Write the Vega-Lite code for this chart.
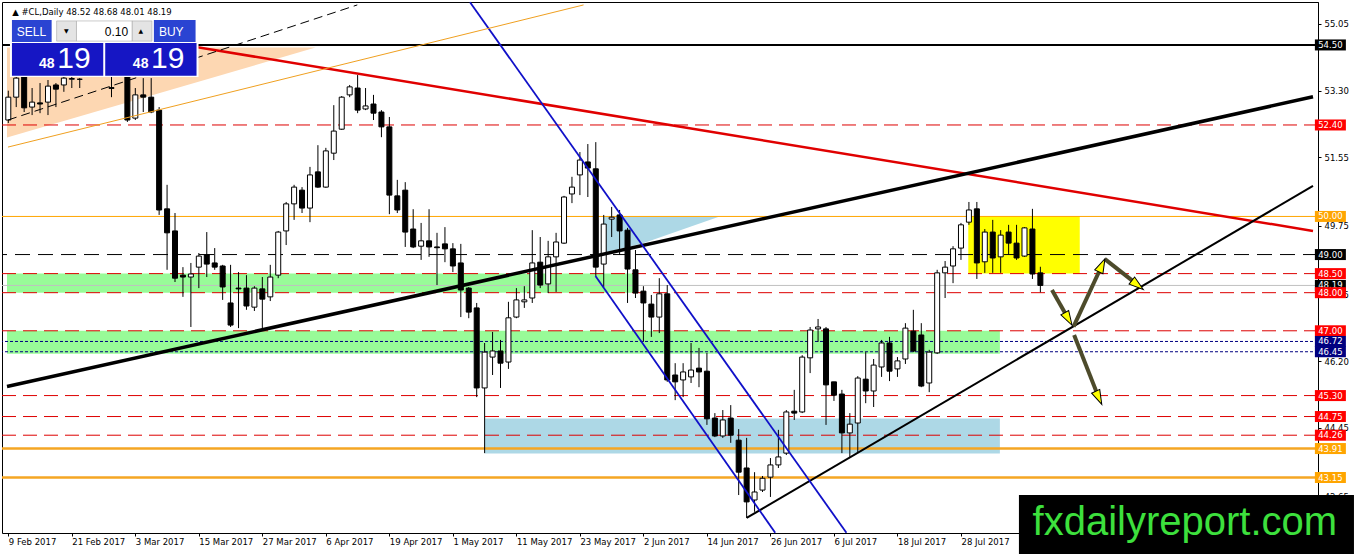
{
  "$schema": "https://vega.github.io/schema/vega-lite/v6.json",
  "description": "#CL daily candlesticks with support/resistance levels, trend lines and trade panel.",
  "autosize": {"type": "none"},
  "width": 1316,
  "height": 531,
  "padding": {"left": 2, "top": 2, "right": 40, "bottom": 21},
  "background": "white",
  "datasets": {
    "candles": [
      {"bar": 0, "open": 52.53, "high": 53.30, "low": 52.45, "close": 53.13},
      {"bar": 1, "open": 53.13, "high": 53.75, "low": 52.87, "close": 53.63},
      {"bar": 2, "open": 53.66, "high": 53.80, "low": 52.74, "close": 52.85},
      {"bar": 3, "open": 52.87, "high": 53.37, "low": 52.66, "close": 53.00},
      {"bar": 4, "open": 52.98, "high": 53.50, "low": 52.71, "close": 52.95},
      {"bar": 5, "open": 53.00, "high": 53.58, "low": 52.66, "close": 53.42},
      {"bar": 6, "open": 53.45, "high": 53.50, "low": 52.87, "close": 53.34},
      {"bar": 7, "open": 53.45, "high": 53.71, "low": 53.27, "close": 53.63},
      {"bar": 8, "open": 53.60, "high": 53.71, "low": 53.37, "close": 53.62},
      {"bar": 9, "open": 53.60, "high": 53.63, "low": 53.37, "close": 53.60},
      {"bar": 10, "open": 53.75, "high": 54.05, "low": 53.72, "close": 53.95},
      {"bar": 11, "open": 53.95, "high": 54.15, "low": 53.75, "close": 53.85},
      {"bar": 12, "open": 53.85, "high": 54.00, "low": 53.72, "close": 53.80},
      {"bar": 13, "open": 53.38, "high": 53.66, "low": 53.13, "close": 53.36},
      {"bar": 14, "open": 53.80, "high": 54.10, "low": 53.70, "close": 53.90},
      {"bar": 15, "open": 53.95, "high": 54.20, "low": 52.48, "close": 52.53},
      {"bar": 16, "open": 52.58, "high": 53.37, "low": 52.53, "close": 53.19},
      {"bar": 17, "open": 53.19, "high": 53.63, "low": 52.74, "close": 53.13},
      {"bar": 18, "open": 53.13, "high": 53.63, "low": 52.71, "close": 52.74},
      {"bar": 19, "open": 52.79, "high": 52.87, "low": 50.04, "close": 50.17},
      {"bar": 20, "open": 50.20, "high": 50.83, "low": 48.60, "close": 49.57},
      {"bar": 21, "open": 49.62, "high": 50.09, "low": 48.28, "close": 48.38},
      {"bar": 22, "open": 48.46, "high": 48.67, "low": 47.89, "close": 48.41},
      {"bar": 23, "open": 48.41, "high": 48.78, "low": 47.10, "close": 48.49},
      {"bar": 24, "open": 48.67, "high": 49.04, "low": 48.12, "close": 48.96},
      {"bar": 25, "open": 48.99, "high": 49.59, "low": 48.41, "close": 48.75},
      {"bar": 26, "open": 48.78, "high": 49.17, "low": 48.60, "close": 48.67},
      {"bar": 27, "open": 48.70, "high": 48.73, "low": 47.81, "close": 48.15},
      {"bar": 28, "open": 47.73, "high": 48.73, "low": 47.10, "close": 47.15},
      {"bar": 29, "open": 48.12, "high": 48.54, "low": 47.07, "close": 48.10},
      {"bar": 30, "open": 48.12, "high": 48.46, "low": 47.55, "close": 47.65},
      {"bar": 31, "open": 47.62, "high": 48.17, "low": 47.52, "close": 48.12},
      {"bar": 32, "open": 48.10, "high": 48.41, "low": 47.07, "close": 47.83},
      {"bar": 33, "open": 47.89, "high": 48.73, "low": 47.78, "close": 48.41},
      {"bar": 34, "open": 48.46, "high": 49.62, "low": 48.38, "close": 49.59},
      {"bar": 35, "open": 49.62, "high": 50.38, "low": 49.25, "close": 50.33},
      {"bar": 36, "open": 50.33, "high": 50.83, "low": 49.91, "close": 50.77},
      {"bar": 37, "open": 50.69, "high": 50.77, "low": 50.09, "close": 50.22},
      {"bar": 38, "open": 50.22, "high": 51.30, "low": 49.85, "close": 51.09},
      {"bar": 39, "open": 51.17, "high": 51.87, "low": 50.75, "close": 50.77},
      {"bar": 40, "open": 50.77, "high": 51.80, "low": 50.75, "close": 51.72},
      {"bar": 41, "open": 51.66, "high": 52.92, "low": 51.48, "close": 52.24},
      {"bar": 42, "open": 52.29, "high": 53.16, "low": 52.27, "close": 53.13},
      {"bar": 43, "open": 53.19, "high": 53.45, "low": 53.13, "close": 53.40},
      {"bar": 44, "open": 53.37, "high": 53.71, "low": 52.71, "close": 52.79},
      {"bar": 45, "open": 52.82, "high": 53.37, "low": 52.79, "close": 52.90},
      {"bar": 46, "open": 52.95, "high": 53.19, "low": 52.53, "close": 52.71},
      {"bar": 47, "open": 52.74, "high": 52.79, "low": 52.08, "close": 52.35},
      {"bar": 48, "open": 52.35, "high": 52.61, "low": 50.06, "close": 50.56},
      {"bar": 49, "open": 50.54, "high": 50.96, "low": 50.09, "close": 50.17},
      {"bar": 50, "open": 50.69, "high": 50.90, "low": 49.20, "close": 49.59},
      {"bar": 51, "open": 49.67, "high": 50.19, "low": 49.17, "close": 49.20},
      {"bar": 52, "open": 49.22, "high": 49.83, "low": 48.86, "close": 49.36},
      {"bar": 53, "open": 49.36, "high": 50.19, "low": 48.94, "close": 49.20},
      {"bar": 54, "open": 49.20, "high": 49.57, "low": 48.20, "close": 49.18},
      {"bar": 55, "open": 49.28, "high": 49.72, "low": 48.80, "close": 49.15},
      {"bar": 56, "open": 49.15, "high": 49.30, "low": 48.54, "close": 48.70},
      {"bar": 57, "open": 48.78, "high": 49.28, "low": 47.36, "close": 48.07},
      {"bar": 58, "open": 48.12, "high": 48.15, "low": 47.33, "close": 47.49},
      {"bar": 59, "open": 47.60, "high": 47.73, "low": 45.26, "close": 45.50},
      {"bar": 60, "open": 45.50, "high": 46.68, "low": 43.79, "close": 46.44},
      {"bar": 61, "open": 46.31, "high": 46.97, "low": 45.84, "close": 46.47},
      {"bar": 62, "open": 46.47, "high": 46.76, "low": 45.50, "close": 46.15},
      {"bar": 63, "open": 46.18, "high": 47.76, "low": 46.00, "close": 47.34},
      {"bar": 64, "open": 47.36, "high": 48.12, "low": 47.33, "close": 47.81},
      {"bar": 65, "open": 47.76, "high": 48.17, "low": 47.60, "close": 47.81},
      {"bar": 66, "open": 47.86, "high": 49.64, "low": 47.73, "close": 48.78},
      {"bar": 67, "open": 48.80, "high": 49.46, "low": 48.12, "close": 48.20},
      {"bar": 68, "open": 48.23, "high": 49.36, "low": 47.99, "close": 48.94},
      {"bar": 69, "open": 48.94, "high": 49.57, "low": 48.02, "close": 49.33},
      {"bar": 70, "open": 49.30, "high": 50.54, "low": 49.28, "close": 50.51},
      {"bar": 71, "open": 50.59, "high": 51.04, "low": 50.35, "close": 50.77},
      {"bar": 72, "open": 51.09, "high": 51.69, "low": 50.56, "close": 51.48},
      {"bar": 73, "open": 51.43, "high": 51.90, "low": 50.51, "close": 51.27},
      {"bar": 74, "open": 51.25, "high": 51.95, "low": 48.44, "close": 48.67},
      {"bar": 75, "open": 48.75, "high": 50.04, "low": 48.15, "close": 49.80},
      {"bar": 76, "open": 49.93, "high": 50.25, "low": 49.46, "close": 49.98},
      {"bar": 77, "open": 50.04, "high": 50.17, "low": 48.99, "close": 49.62},
      {"bar": 78, "open": 49.64, "high": 49.70, "low": 47.73, "close": 48.62},
      {"bar": 79, "open": 48.60, "high": 49.12, "low": 47.86, "close": 47.99},
      {"bar": 80, "open": 48.04, "high": 48.17, "low": 46.71, "close": 47.73},
      {"bar": 81, "open": 47.70, "high": 47.94, "low": 46.84, "close": 47.36},
      {"bar": 82, "open": 47.36, "high": 48.38, "low": 46.94, "close": 47.97},
      {"bar": 83, "open": 47.97, "high": 48.20, "low": 45.66, "close": 45.71},
      {"bar": 84, "open": 45.84, "high": 46.15, "low": 45.18, "close": 45.66},
      {"bar": 85, "open": 45.71, "high": 46.15, "low": 45.26, "close": 45.92},
      {"bar": 86, "open": 45.79, "high": 46.68, "low": 45.63, "close": 45.97},
      {"bar": 87, "open": 46.02, "high": 46.55, "low": 45.52, "close": 45.92},
      {"bar": 88, "open": 45.94, "high": 46.42, "low": 44.53, "close": 44.69},
      {"bar": 89, "open": 44.71, "high": 44.84, "low": 44.21, "close": 44.24},
      {"bar": 90, "open": 44.24, "high": 44.92, "low": 44.19, "close": 44.66},
      {"bar": 91, "open": 44.71, "high": 45.05, "low": 44.06, "close": 44.26},
      {"bar": 92, "open": 44.13, "high": 44.42, "low": 42.69, "close": 43.29},
      {"bar": 93, "open": 43.40, "high": 44.19, "low": 42.09, "close": 42.51},
      {"bar": 94, "open": 42.56, "high": 43.29, "low": 42.25, "close": 42.77},
      {"bar": 95, "open": 42.82, "high": 43.19, "low": 42.77, "close": 43.13},
      {"bar": 96, "open": 43.16, "high": 43.66, "low": 42.64, "close": 43.48},
      {"bar": 97, "open": 43.48, "high": 44.40, "low": 43.40, "close": 43.69},
      {"bar": 98, "open": 43.79, "high": 44.92, "low": 43.74, "close": 44.87},
      {"bar": 99, "open": 44.89, "high": 45.45, "low": 44.66, "close": 44.84},
      {"bar": 100, "open": 44.87, "high": 46.36, "low": 44.84, "close": 46.31},
      {"bar": 101, "open": 46.29, "high": 47.10, "low": 45.89, "close": 47.02},
      {"bar": 102, "open": 47.05, "high": 47.31, "low": 46.71, "close": 47.10},
      {"bar": 103, "open": 47.05, "high": 47.10, "low": 44.53, "close": 45.58},
      {"bar": 104, "open": 45.66, "high": 45.66, "low": 45.16, "close": 45.31},
      {"bar": 105, "open": 45.34, "high": 45.45, "low": 43.79, "close": 44.32},
      {"bar": 106, "open": 44.32, "high": 44.84, "low": 43.69, "close": 44.55},
      {"bar": 107, "open": 44.58, "high": 45.81, "low": 43.82, "close": 45.76},
      {"bar": 108, "open": 45.73, "high": 46.44, "low": 45.10, "close": 45.42},
      {"bar": 109, "open": 45.42, "high": 46.26, "low": 45.00, "close": 46.10},
      {"bar": 110, "open": 46.05, "high": 46.76, "low": 45.79, "close": 46.68},
      {"bar": 111, "open": 46.68, "high": 46.84, "low": 45.68, "close": 45.94},
      {"bar": 112, "open": 46.00, "high": 46.31, "low": 45.79, "close": 46.21},
      {"bar": 113, "open": 46.26, "high": 47.20, "low": 46.13, "close": 47.07},
      {"bar": 114, "open": 46.99, "high": 47.55, "low": 46.44, "close": 46.47},
      {"bar": 115, "open": 46.89, "high": 47.20, "low": 45.52, "close": 45.55},
      {"bar": 116, "open": 45.63, "high": 46.50, "low": 45.39, "close": 46.44},
      {"bar": 117, "open": 46.42, "high": 48.60, "low": 46.39, "close": 48.52},
      {"bar": 118, "open": 48.52, "high": 48.83, "low": 47.86, "close": 48.67},
      {"bar": 119, "open": 48.70, "high": 49.22, "low": 48.25, "close": 49.15},
      {"bar": 120, "open": 49.17, "high": 49.83, "low": 48.86, "close": 49.78},
      {"bar": 121, "open": 49.85, "high": 50.38, "low": 49.78, "close": 50.17},
      {"bar": 122, "open": 50.20, "high": 50.38, "low": 48.36, "close": 48.78},
      {"bar": 123, "open": 48.81, "high": 49.67, "low": 48.52, "close": 49.59},
      {"bar": 124, "open": 49.59, "high": 49.91, "low": 48.52, "close": 48.91},
      {"bar": 125, "open": 48.94, "high": 49.64, "low": 48.52, "close": 49.51},
      {"bar": 126, "open": 49.59, "high": 49.78, "low": 48.99, "close": 49.30},
      {"bar": 127, "open": 49.30, "high": 49.78, "low": 48.86, "close": 48.91},
      {"bar": 128, "open": 48.96, "high": 49.72, "low": 48.94, "close": 49.70},
      {"bar": 129, "open": 49.67, "high": 50.20, "low": 48.36, "close": 48.49},
      {"bar": 130, "open": 48.52, "high": 48.68, "low": 48.01, "close": 48.19}
    ],
    "levelSolid": [{"price": 54.50}],
    "levelRed": [{"price": 52.40}, {"price": 48.50}, {"price": 48.00}, {"price": 47.00}, {"price": 45.30}, {"price": 44.75}, {"price": 44.26}],
    "levelOrange": [{"price": 50.00}],
    "levelDash": [{"price": 49.00}],
    "levelBid": [{"price": 48.19}],
    "levelNavy": [{"price": 46.72}, {"price": 46.45}],
    "levelGold": [{"price": 43.91}, {"price": 43.15}],
    "zones": [
      {"zone": "support 48.00-48.50", "bar1": -0.1625, "bar2": 78.97, "low": 48.00, "high": 48.50},
      {"zone": "support 46.40-47.00", "bar1": -0.1625, "bar2": 124.9, "low": 46.40, "high": 47.00},
      {"zone": "demand", "bar1": 60.0, "bar2": 124.9, "low": 43.78, "high": 44.70},
      {"zone": "range", "bar1": 120.92, "bar2": 134.96, "low": 48.50, "high": 50.00}
    ],
    "arrows": [
      {"bar1": 131.46, "price1": 48.07, "bar2": 133.59, "price2": 47.29},
      {"bar1": 134.18, "price1": 47.11, "bar2": 137.81, "price2": 48.74},
      {"bar1": 138.13, "price1": 48.88, "bar2": 142.34, "price2": 48.19},
      {"bar1": 134.25, "price1": 46.89, "bar2": 137.40, "price2": 45.22}
    ]
  },
  "layer": [
    {
      "data": {"values": [{"bar": -0.16, "top": 54.43, "bottom": 52.07}, {"bar": 38.7, "top": 54.43, "bottom": 54.43}]},
      "mark": {"type": "area", "color": "#fdd7b2"},
      "encoding": {
        "x": {
          "field": "bar", "type": "quantitative",
          "scale": {"domain": [-0.1625, 164.34], "nice": false, "zero": false},
          "axis": {
            "title": null, "grid": false, "domain": false,
            "values": [0, 8, 16, 24, 32, 40, 48, 56, 64, 72, 80, 88, 96, 104, 112, 120],
            "labelExpr": "datum.value == 0 ? '9 Feb 2017' : datum.value == 8 ? '21 Feb 2017' : datum.value == 16 ? '3 Mar 2017' : datum.value == 24 ? '15 Mar 2017' : datum.value == 32 ? '27 Mar 2017' : datum.value == 40 ? '6 Apr 2017' : datum.value == 48 ? '19 Apr 2017' : datum.value == 56 ? '1 May 2017' : datum.value == 64 ? '11 May 2017' : datum.value == 72 ? '23 May 2017' : datum.value == 80 ? '2 Jun 2017' : datum.value == 88 ? '14 Jun 2017' : datum.value == 96 ? '26 Jun 2017' : datum.value == 104 ? '6 Jul 2017' : datum.value == 112 ? '18 Jul 2017' : '28 Jul 2017'",
            "labelAlign": "left", "labelFont": "DejaVu Sans", "labelFontSize": 8.5, "labelColor": "black",
            "tickColor": "black", "tickSize": 3, "labelPadding": 1,
            "labelOverlap": false, "labelFlush": false, "labelBound": false
          }
        },
        "y": {
          "field": "top", "type": "quantitative",
          "scale": {"domain": [41.694, 55.627], "nice": false, "zero": false},
          "axis": {
            "orient": "right", "title": null, "grid": false,
            "values": [55.05, 54.20, 53.30, 52.40, 51.55, 50.65, 49.75, 48.85, 47.95, 47.10, 46.20, 45.30, 44.45, 43.55, 42.65],
            "format": ".2f", "labelFont": "DejaVu Sans", "labelFontSize": 8.5, "labelColor": "black",
            "tickColor": "black", "tickSize": 3, "domainColor": "black", "labelPadding": 3,
            "labelOverlap": false, "labelFlush": false, "labelBound": false
          }
        },
        "y2": {"field": "bottom"}
      }
    },
    {
      "data": {"values": [{"bar": 74.96, "top": 50.0, "bottom": 49.05}, {"bar": 79.96, "top": 50.0, "bottom": 49.30}, {"bar": 89.6, "top": 50.0, "bottom": 50.0}]},
      "mark": {"type": "area", "color": "#add8e6"},
      "encoding": {
        "x": {"field": "bar", "type": "quantitative"},
        "y": {"field": "top", "type": "quantitative"},
        "y2": {"field": "bottom"}
      }
    },
    {
      "data": {"name": "zones"},
      "mark": {"type": "rect"},
      "encoding": {
        "x": {"field": "bar1", "type": "quantitative"},
        "x2": {"field": "bar2"},
        "y": {"field": "low", "type": "quantitative"},
        "y2": {"field": "high"},
        "color": {
          "field": "zone", "type": "nominal", "legend": null,
          "scale": {"domain": ["support 48.00-48.50", "support 46.40-47.00", "demand", "range"], "range": ["#98fb98", "#98fb98", "#add8e6", "#ffff00"]}
        }
      }
    },
    {"data": {"name": "levelSolid"}, "mark": {"type": "rule", "color": "black", "strokeWidth": 2}, "encoding": {"y": {"field": "price", "type": "quantitative"}}},
    {"data": {"name": "levelRed"}, "mark": {"type": "rule", "color": "#dd0000", "strokeWidth": 1, "strokeDash": [14, 7]}, "encoding": {"y": {"field": "price", "type": "quantitative"}}},
    {"data": {"name": "levelOrange"}, "mark": {"type": "rule", "color": "#ffa500", "strokeWidth": 1}, "encoding": {"y": {"field": "price", "type": "quantitative"}}},
    {"data": {"name": "levelDash"}, "mark": {"type": "rule", "color": "black", "strokeWidth": 1, "strokeDash": [15, 8]}, "encoding": {"y": {"field": "price", "type": "quantitative"}}},
    {"data": {"name": "levelBid"}, "mark": {"type": "rule", "color": "#c0c0c0", "strokeWidth": 1}, "encoding": {"y": {"field": "price", "type": "quantitative"}}},
    {"data": {"name": "levelNavy"}, "mark": {"type": "rule", "color": "#000080", "strokeWidth": 1, "strokeDash": [3, 2]}, "encoding": {"y": {"field": "price", "type": "quantitative"}}},
    {"data": {"name": "levelGold"}, "mark": {"type": "rule", "color": "#f5a623", "strokeWidth": 2.5}, "encoding": {"y": {"field": "price", "type": "quantitative"}}},
    {
      "data": {"name": "candles"},
      "mark": {"type": "rule", "color": "black", "strokeWidth": 1},
      "encoding": {
        "x": {"field": "bar", "type": "quantitative"},
        "y": {"field": "low", "type": "quantitative"},
        "y2": {"field": "high"}
      }
    },
    {
      "data": {"name": "candles"},
      "mark": {"type": "bar", "size": 5, "stroke": "black", "strokeWidth": 1},
      "encoding": {
        "x": {"field": "bar", "type": "quantitative"},
        "y": {"field": "open", "type": "quantitative"},
        "y2": {"field": "close"},
        "fill": {"condition": {"test": "datum.close < datum.open", "value": "black"}, "value": "white"}
      }
    },
    {
      "data": {"values": [{"bar1": 18, "price1": 54.64, "bar2": 164.34, "price2": 49.62}]},
      "mark": {"type": "rule", "color": "#e00000", "strokeWidth": 2.5},
      "encoding": {
        "x": {"field": "bar1", "type": "quantitative"}, "x2": {"field": "bar2"},
        "y": {"field": "price1", "type": "quantitative"}, "y2": {"field": "price2"}
      }
    },
    {
      "data": {"values": [{"bar1": -0.1625, "price1": 45.54, "bar2": 164.34, "price2": 53.14}]},
      "mark": {"type": "rule", "color": "black", "strokeWidth": 3.5},
      "encoding": {
        "x": {"field": "bar1", "type": "quantitative"}, "x2": {"field": "bar2"},
        "y": {"field": "price1", "type": "quantitative"}, "y2": {"field": "price2"}
      }
    },
    {
      "data": {"values": [{"bar1": 93, "price1": 42.09, "bar2": 164.34, "price2": 50.80}]},
      "mark": {"type": "rule", "color": "black", "strokeWidth": 2},
      "encoding": {
        "x": {"field": "bar1", "type": "quantitative"}, "x2": {"field": "bar2"},
        "y": {"field": "price1", "type": "quantitative"}, "y2": {"field": "price2"}
      }
    },
    {
      "data": {"values": [
        {"bar1": 58.16, "price1": 55.62, "bar2": 105.57, "price2": 41.70},
        {"bar1": 73.96, "price1": 48.44, "bar2": 96.6, "price2": 41.70}
      ]},
      "mark": {"type": "rule", "color": "#1010c8", "strokeWidth": 1.8},
      "encoding": {
        "x": {"field": "bar1", "type": "quantitative"}, "x2": {"field": "bar2"},
        "y": {"field": "price1", "type": "quantitative"}, "y2": {"field": "price2"}
      }
    },
    {
      "data": {"values": [{"bar1": -0.04, "price1": 52.53, "bar2": 43.96, "price2": 55.55}]},
      "mark": {"type": "rule", "color": "black", "strokeWidth": 1, "strokeDash": [9, 5]},
      "encoding": {
        "x": {"field": "bar1", "type": "quantitative"}, "x2": {"field": "bar2"},
        "y": {"field": "price1", "type": "quantitative"}, "y2": {"field": "price2"}
      }
    },
    {
      "data": {"values": [{"bar1": -0.04, "price1": 51.82, "bar2": 72.46, "price2": 55.55}]},
      "mark": {"type": "rule", "color": "#f0a020", "strokeWidth": 1},
      "encoding": {
        "x": {"field": "bar1", "type": "quantitative"}, "x2": {"field": "bar2"},
        "y": {"field": "price1", "type": "quantitative"}, "y2": {"field": "price2"}
      }
    },
    {
      "data": {"name": "arrows"},
      "mark": {"type": "rule", "color": "#4d4b2b", "strokeWidth": 4},
      "encoding": {
        "x": {"field": "bar1", "type": "quantitative"}, "x2": {"field": "bar2"},
        "y": {"field": "price1", "type": "quantitative"}, "y2": {"field": "price2"}
      }
    },
    {
      "data": {"values": [{"bar": 133.53, "price": 47.31}]},
      "mark": {"type": "point", "shape": "M0,-1L0.62,1L-0.62,1Z", "size": 210, "angle": 150, "filled": true, "fill": "#ffff00", "stroke": "black", "strokeWidth": 1, "opacity": 1},
      "encoding": {"x": {"field": "bar", "type": "quantitative"}, "y": {"field": "price", "type": "quantitative"}}
    },
    {
      "data": {"values": [{"bar": 137.75, "price": 48.72}]},
      "mark": {"type": "point", "shape": "M0,-1L0.62,1L-0.62,1Z", "size": 210, "angle": 25, "filled": true, "fill": "#ffff00", "stroke": "black", "strokeWidth": 1, "opacity": 1},
      "encoding": {"x": {"field": "bar", "type": "quantitative"}, "y": {"field": "price", "type": "quantitative"}}
    },
    {
      "data": {"values": [{"bar": 142.24, "price": 48.20}]},
      "mark": {"type": "point", "shape": "M0,-1L0.62,1L-0.62,1Z", "size": 210, "angle": 128, "filled": true, "fill": "#ffff00", "stroke": "black", "strokeWidth": 1, "opacity": 1},
      "encoding": {"x": {"field": "bar", "type": "quantitative"}, "y": {"field": "price", "type": "quantitative"}}
    },
    {
      "data": {"values": [{"bar": 137.35, "price": 45.24}]},
      "mark": {"type": "point", "shape": "M0,-1L0.62,1L-0.62,1Z", "size": 210, "angle": 155, "filled": true, "fill": "#ffff00", "stroke": "black", "strokeWidth": 1, "opacity": 1},
      "encoding": {"x": {"field": "bar", "type": "quantitative"}, "y": {"field": "price", "type": "quantitative"}}
    },
    {
      "data": {"name": "levelBid"},
      "layer": [
        {"mark": {"type": "point", "shape": "M-1,-0.355H1V0.355H-1Z", "size": 961, "filled": true, "color": "black", "opacity": 1}, "encoding": {"x": {"datum": 166.53, "type": "quantitative"}, "y": {"field": "price", "type": "quantitative"}}},
        {"mark": {"type": "text", "color": "white", "font": "DejaVu Sans", "fontSize": 8.5}, "encoding": {"x": {"datum": 166.53, "type": "quantitative"}, "y": {"field": "price", "type": "quantitative"}, "text": {"field": "price", "format": ".2f"}}}
      ]
    },
    {
      "data": {"name": "levelSolid"},
      "layer": [
        {"mark": {"type": "point", "shape": "M-1,-0.355H1V0.355H-1Z", "size": 961, "filled": true, "color": "black", "opacity": 1}, "encoding": {"x": {"datum": 166.53, "type": "quantitative"}, "y": {"field": "price", "type": "quantitative"}}},
        {"mark": {"type": "text", "color": "white", "font": "DejaVu Sans", "fontSize": 8.5}, "encoding": {"x": {"datum": 166.53, "type": "quantitative"}, "y": {"field": "price", "type": "quantitative"}, "text": {"field": "price", "format": ".2f"}}}
      ]
    },
    {
      "data": {"name": "levelDash"},
      "layer": [
        {"mark": {"type": "point", "shape": "M-1,-0.355H1V0.355H-1Z", "size": 961, "filled": true, "color": "black", "opacity": 1}, "encoding": {"x": {"datum": 166.53, "type": "quantitative"}, "y": {"field": "price", "type": "quantitative"}}},
        {"mark": {"type": "text", "color": "white", "font": "DejaVu Sans", "fontSize": 8.5}, "encoding": {"x": {"datum": 166.53, "type": "quantitative"}, "y": {"field": "price", "type": "quantitative"}, "text": {"field": "price", "format": ".2f"}}}
      ]
    },
    {
      "data": {"name": "levelRed"},
      "layer": [
        {"mark": {"type": "point", "shape": "M-1,-0.355H1V0.355H-1Z", "size": 961, "filled": true, "color": "#ff0000", "opacity": 1}, "encoding": {"x": {"datum": 166.53, "type": "quantitative"}, "y": {"field": "price", "type": "quantitative"}}},
        {"mark": {"type": "text", "color": "white", "font": "DejaVu Sans", "fontSize": 8.5}, "encoding": {"x": {"datum": 166.53, "type": "quantitative"}, "y": {"field": "price", "type": "quantitative"}, "text": {"field": "price", "format": ".2f"}}}
      ]
    },
    {
      "data": {"name": "levelOrange"},
      "layer": [
        {"mark": {"type": "point", "shape": "M-1,-0.355H1V0.355H-1Z", "size": 961, "filled": true, "color": "#ffa500", "opacity": 1}, "encoding": {"x": {"datum": 166.53, "type": "quantitative"}, "y": {"field": "price", "type": "quantitative"}}},
        {"mark": {"type": "text", "color": "white", "font": "DejaVu Sans", "fontSize": 8.5}, "encoding": {"x": {"datum": 166.53, "type": "quantitative"}, "y": {"field": "price", "type": "quantitative"}, "text": {"field": "price", "format": ".2f"}}}
      ]
    },
    {
      "data": {"name": "levelNavy"},
      "layer": [
        {"mark": {"type": "point", "shape": "M-1,-0.355H1V0.355H-1Z", "size": 961, "filled": true, "color": "#000080", "opacity": 1}, "encoding": {"x": {"datum": 166.53, "type": "quantitative"}, "y": {"field": "price", "type": "quantitative"}}},
        {"mark": {"type": "text", "color": "white", "font": "DejaVu Sans", "fontSize": 8.5}, "encoding": {"x": {"datum": 166.53, "type": "quantitative"}, "y": {"field": "price", "type": "quantitative"}, "text": {"field": "price", "format": ".2f"}}}
      ]
    },
    {
      "data": {"name": "levelGold"},
      "layer": [
        {"mark": {"type": "point", "shape": "M-1,-0.355H1V0.355H-1Z", "size": 961, "filled": true, "color": "#ffa500", "opacity": 1}, "encoding": {"x": {"datum": 166.53, "type": "quantitative"}, "y": {"field": "price", "type": "quantitative"}}},
        {"mark": {"type": "text", "color": "white", "font": "DejaVu Sans", "fontSize": 8.5}, "encoding": {"x": {"datum": 166.53, "type": "quantitative"}, "y": {"field": "price", "type": "quantitative"}, "text": {"field": "price", "format": ".2f"}}}
      ]
    },
    {
      "data": {"values": [{"bar1": 0.21, "bar2": 23.96, "top": 55.21, "bottom": 53.66}]},
      "mark": {"type": "rect", "color": "white"},
      "encoding": {
        "x": {"field": "bar1", "type": "quantitative"}, "x2": {"field": "bar2"},
        "y": {"field": "top", "type": "quantitative"}, "y2": {"field": "bottom"}
      }
    },
    {
      "data": {"values": [
        {"button": "SELL", "bar1": 0.46, "bar2": 5.46, "top": 55.155, "bottom": 54.58},
        {"button": "BUY", "bar1": 18.34, "bar2": 23.59, "top": 55.155, "bottom": 54.58}
      ]},
      "mark": {"type": "rect", "color": "#2a44d2"},
      "encoding": {
        "x": {"field": "bar1", "type": "quantitative"}, "x2": {"field": "bar2"},
        "y": {"field": "top", "type": "quantitative"}, "y2": {"field": "bottom"}
      }
    },
    {
      "data": {"values": [
        {"button": "lot down", "bar1": 6.09, "bar2": 8.59, "top": 55.13, "bottom": 54.60},
        {"button": "lot up", "bar1": 15.59, "bar2": 18.09, "top": 55.13, "bottom": 54.60}
      ]},
      "mark": {"type": "rect", "color": "#e4e4e4", "stroke": "#a8a8a8", "strokeWidth": 0.6},
      "encoding": {
        "x": {"field": "bar1", "type": "quantitative"}, "x2": {"field": "bar2"},
        "y": {"field": "top", "type": "quantitative"}, "y2": {"field": "bottom"}
      }
    },
    {
      "data": {"values": [{"button": "lot size", "bar1": 8.59, "bar2": 15.59, "top": 55.13, "bottom": 54.60}]},
      "mark": {"type": "rect", "color": "white", "stroke": "#a8a8a8", "strokeWidth": 0.6},
      "encoding": {
        "x": {"field": "bar1", "type": "quantitative"}, "x2": {"field": "bar2"},
        "y": {"field": "top", "type": "quantitative"}, "y2": {"field": "bottom"}
      }
    },
    {
      "data": {"values": [
        {"quote": "bid", "bar1": 0.46, "bar2": 11.96, "top": 54.55, "bottom": 53.69},
        {"quote": "ask", "bar1": 12.21, "bar2": 23.71, "top": 54.55, "bottom": 53.69}
      ]},
      "mark": {"type": "rect", "color": "#1616c4"},
      "encoding": {
        "x": {"field": "bar1", "type": "quantitative"}, "x2": {"field": "bar2"},
        "y": {"field": "top", "type": "quantitative"}, "y2": {"field": "bottom"}
      }
    },
    {
      "data": {"values": [{"label": "SELL", "bar": 2.92, "price": 54.74}, {"label": "BUY", "bar": 20.53, "price": 54.74}]},
      "mark": {"type": "text", "color": "white", "font": "Liberation Sans", "fontSize": 12, "align": "center", "baseline": "alphabetic"},
      "encoding": {"x": {"field": "bar", "type": "quantitative"}, "y": {"field": "price", "type": "quantitative"}, "text": {"field": "label"}}
    },
    {
      "data": {"values": [{"label": "0.10", "bar": 15.09, "price": 54.74}]},
      "mark": {"type": "text", "color": "black", "font": "Liberation Sans", "fontSize": 12, "align": "right", "baseline": "alphabetic"},
      "encoding": {"x": {"field": "bar", "type": "quantitative"}, "y": {"field": "price", "type": "quantitative"}, "text": {"field": "label"}}
    },
    {
      "data": {"values": [{"label": "▼", "bar": 7.30, "price": 54.87}, {"label": "▲", "bar": 16.68, "price": 54.87}]},
      "mark": {"type": "text", "color": "black", "font": "DejaVu Sans", "fontSize": 6, "align": "center", "baseline": "middle"},
      "encoding": {"x": {"field": "bar", "type": "quantitative"}, "y": {"field": "price", "type": "quantitative"}, "text": {"field": "label"}}
    },
    {
      "data": {"values": [{"label": "48", "bar": 4.84, "price": 53.90}, {"label": "48", "bar": 16.67, "price": 53.90}]},
      "mark": {"type": "text", "color": "white", "font": "Liberation Sans", "fontSize": 14, "fontWeight": "bold", "align": "center", "baseline": "alphabetic"},
      "encoding": {"x": {"field": "bar", "type": "quantitative"}, "y": {"field": "price", "type": "quantitative"}, "text": {"field": "label"}}
    },
    {
      "data": {"values": [{"label": "19", "bar": 8.27, "price": 53.90}, {"label": "19", "bar": 20.09, "price": 53.90}]},
      "mark": {"type": "text", "color": "white", "font": "Liberation Sans", "fontSize": 30, "align": "center", "baseline": "alphabetic"},
      "encoding": {"x": {"field": "bar", "type": "quantitative"}, "y": {"field": "price", "type": "quantitative"}, "text": {"field": "label"}}
    },
    {
      "data": {"values": [{"label": "▲  #CL,Daily  48.52 48.68 48.01 48.19", "bar": 0.5, "price": 55.29}]},
      "mark": {"type": "text", "color": "black", "font": "DejaVu Sans", "fontSize": 8.5, "align": "left", "baseline": "alphabetic"},
      "encoding": {"x": {"field": "bar", "type": "quantitative"}, "y": {"field": "price", "type": "quantitative"}, "text": {"field": "label"}}
    },
    {
      "data": {"values": [{"bar1": 127.3, "bar2": 169.5, "top": 42.69, "bottom": 41.0}]},
      "mark": {"type": "rect", "color": "black"},
      "encoding": {
        "x": {"field": "bar1", "type": "quantitative"}, "x2": {"field": "bar2"},
        "y": {"field": "top", "type": "quantitative"}, "y2": {"field": "bottom"}
      }
    },
    {
      "data": {"values": [{"label": "fxdailyreport.com", "bar": 148.2, "price": 41.64}]},
      "mark": {"type": "text", "color": "#3de03d", "font": "Liberation Sans", "fontSize": 40, "align": "center", "baseline": "alphabetic"},
      "encoding": {"x": {"field": "bar", "type": "quantitative"}, "y": {"field": "price", "type": "quantitative"}, "text": {"field": "label"}}
    }
  ],
  "config": {
    "view": {"stroke": "black", "strokeWidth": 1}
  }
}
